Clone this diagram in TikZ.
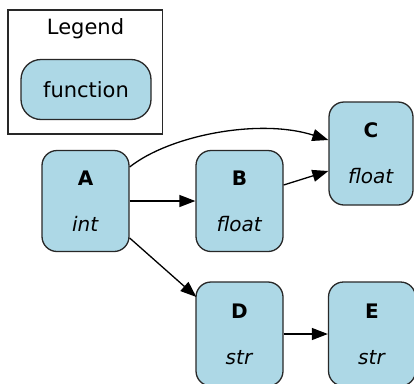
\documentclass[tikz,border=0pt]{standalone}
\usepackage{fontspec}
\setmainfont{DejaVu Sans}
\usepackage{tikz}
\usetikzlibrary{shapes, arrows.meta}
\definecolor{lblue}{RGB}{173,216,230}
\definecolor{edge}{RGB}{40,40,40}
\tikzstyle{val} = [rectangle, draw = edge, fill = lblue, line width = 1.3pt, minimum width = 87pt, minimum height = 101pt, text centered, rounded corners = 15pt, font = \fontsize{20}{24}\selectfont, inner sep = 0pt]
\tikzstyle{fn} = [rectangle, draw = edge, fill = lblue, line width = 1.3pt, minimum width = 130pt, minimum height = 60pt, text centered, rounded corners = 20pt, font = \fontsize{21}{25}\selectfont]
\tikzstyle{arrow} = [draw, -{Triangle[length = 16pt, width = 12pt]}, line width = 1.3pt]

\begin{document}
\begin{tikzpicture}[x = 1pt, y = -1pt, align = center]
            \useasboundingbox (0, 0) rectangle (414, 383);
            \draw[edge, line width = 1.2pt] (8, 10) rectangle (162.5, 134);
            \node[anchor = base, font = \fontsize{21}{25}\selectfont] (leg) at (85.5, 34) {Legend};
            \node[fn] (fun) at (86, 89.5) {function};

            \node[val] (A) at (85.5, 201) {\textbf{A}\\[22pt]\textit{int}};
            \node[val] (B) at (239.5, 201) {\textbf{B}\\[22pt]\textit{float}};
            \node[val, minimum width = 84pt, minimum height = 103pt] (C) at (371, 153.5) {\textbf{C}\\[22pt]\textit{float}};
            \node[val, minimum height = 104pt] (D) at (239.5, 334) {\textbf{D}\\[22pt]\textit{str}};
            \node[val, minimum height = 104pt] (E) at (372, 334) {\textbf{E}\\[22pt]\textit{str}};

            \path[arrow] (A.east) -- (B.west);
            \path[arrow] ([yshift = 34pt]A.east) .. controls (170, 135) and (260, 118) .. ([yshift = 13.5pt]C.west);
            \path[arrow] ([yshift = 16pt]B.east) -- ([yshift = -17.5pt]C.west);
            \path[arrow] ([yshift = -37pt]A.east) -- ([yshift = 37pt, xshift = 1pt]D.west);
            \path[arrow] (D.east) -- (E.west);
        \end{tikzpicture}
\end{document}
